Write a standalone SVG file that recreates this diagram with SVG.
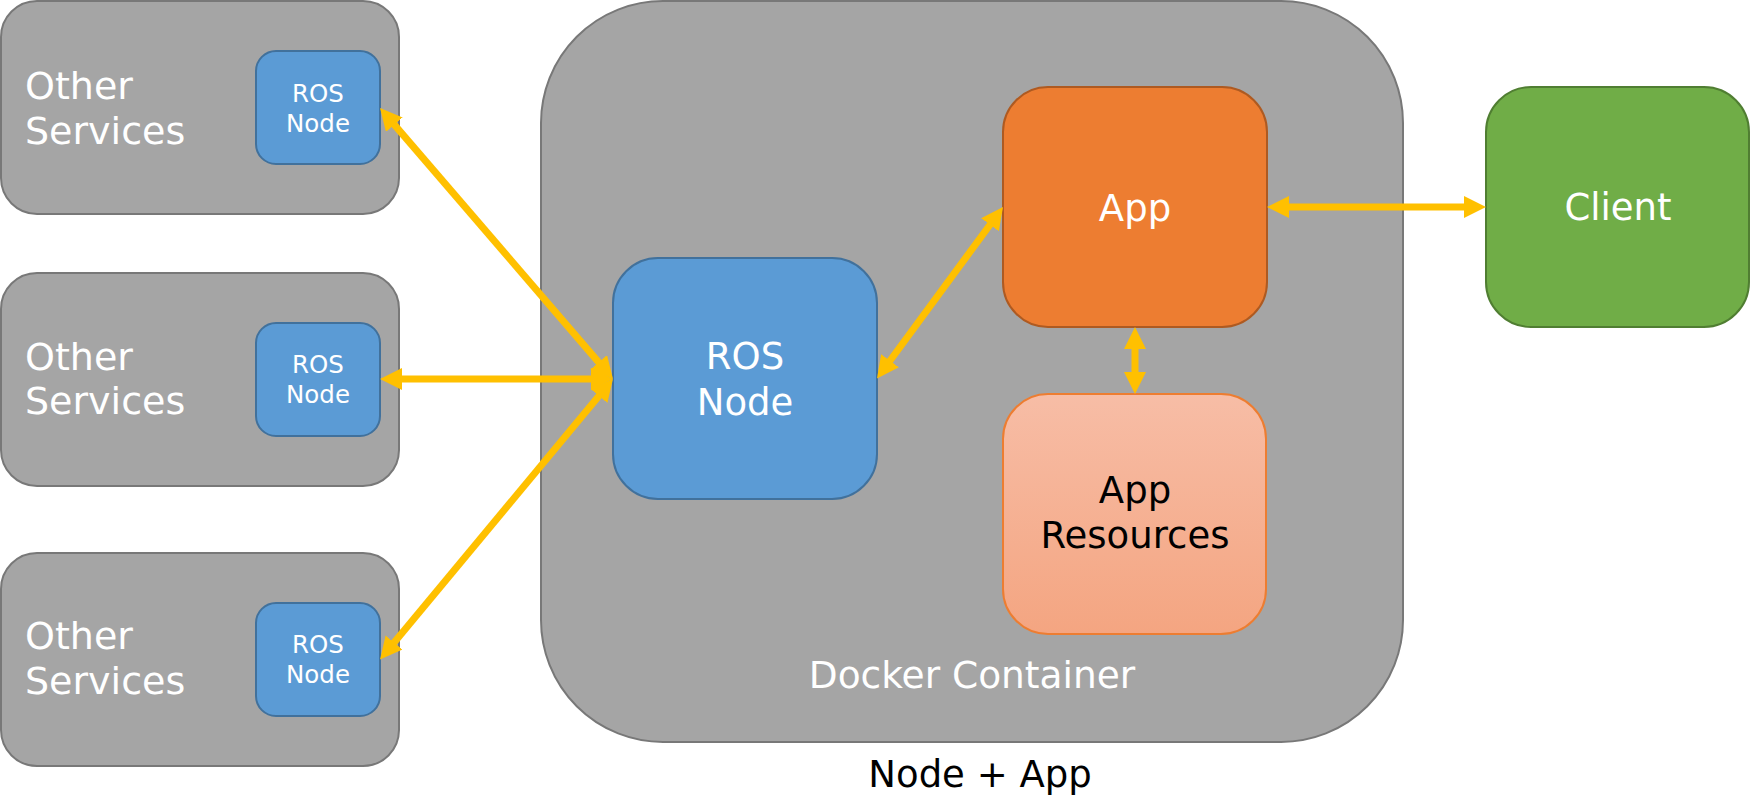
<svg xmlns="http://www.w3.org/2000/svg" width="1750" height="806" viewBox="0 0 1750 806">
<defs>
<linearGradient id="resGrad" x1="0" y1="0" x2="0" y2="1">
<stop offset="0" stop-color="#F7BDA6"/>
<stop offset="1" stop-color="#F4A581"/>
</linearGradient>
<marker id="ah" markerUnits="userSpaceOnUse" markerWidth="24" markerHeight="24" refX="10" refY="11" orient="auto-start-reverse">
<path d="M0,0 L22,11 L0,22 z" fill="#FFC000"/>
</marker>
</defs>
<style>
.gray{fill:#A5A5A5;stroke:#787878;stroke-width:2}
.blue{fill:#5B9BD5;stroke:#41719C;stroke-width:2}
.orange{fill:#ED7D31;stroke:#AE5A21;stroke-width:2}
.green{fill:#70AD47;stroke:#507E32;stroke-width:2}
.res{fill:url(#resGrad);stroke:#ED7D31;stroke-width:2}
text{font-family:"DejaVu Sans","Liberation Sans",sans-serif;fill:#FFFFFF}
.big{font-size:37px}
.svc{font-size:38px}
.small{font-size:24.5px}
.mid{text-anchor:middle}
.dark{fill:#000000}
.conn{stroke:#FFC000;stroke-width:7;fill:none;marker-start:url(#ah);marker-end:url(#ah)}
</style>
<g id="docker-container">
<rect class="gray" x="541" y="1" width="862" height="741" rx="122" ry="122"/>
<text class="mid" x="972" y="688" style="font-size:37.5px">Docker Container</text>
</g>
<g id="other-services-1">
<rect class="gray" x="1" y="1" width="398" height="213" rx="36" ry="36"/>
<text class="svc" x="25" y="99">Other</text>
<text class="svc" x="25" y="144">Services</text>
</g>
<g id="ros-node-1">
<rect class="blue" x="256" y="51" width="124" height="113" rx="20" ry="20"/>
<text class="small mid" x="318" y="102">ROS</text>
<text class="small mid" x="318" y="132">Node</text>
</g>
<g id="other-services-2">
<rect class="gray" x="1" y="273" width="398" height="213" rx="36" ry="36"/>
<text class="svc" x="25" y="370">Other</text>
<text class="svc" x="25" y="414">Services</text>
</g>
<g id="ros-node-2">
<rect class="blue" x="256" y="323" width="124" height="113" rx="20" ry="20"/>
<text class="small mid" x="318" y="373">ROS</text>
<text class="small mid" x="318" y="403">Node</text>
</g>
<g id="other-services-3">
<rect class="gray" x="1" y="553" width="398" height="213" rx="36" ry="36"/>
<text class="svc" x="25" y="649">Other</text>
<text class="svc" x="25" y="694">Services</text>
</g>
<g id="ros-node-3">
<rect class="blue" x="256" y="603" width="124" height="113" rx="20" ry="20"/>
<text class="small mid" x="318" y="653">ROS</text>
<text class="small mid" x="318" y="683">Node</text>
</g>
<g id="ros-node-main">
<rect class="blue" x="613" y="258" width="264" height="241" rx="45" ry="45"/>
<text class="big mid" x="745" y="369">ROS</text>
<text class="big mid" x="745" y="415">Node</text>
</g>
<g id="app">
<rect class="orange" x="1003" y="87" width="264" height="240" rx="45" ry="45"/>
<text class="big mid" x="1135" y="221">App</text>
</g>
<g id="app-resources">
<rect class="res" x="1003" y="394" width="263" height="240" rx="45" ry="45"/>
<text class="big mid dark" x="1135" y="503">App</text>
<text class="big mid dark" x="1135" y="548">Resources</text>
</g>
<g id="client">
<rect class="green" x="1486" y="87" width="263" height="240" rx="45" ry="45"/>
<text class="big mid" x="1618" y="220">Client</text>
</g>
<g id="caption">
<text class="big mid dark" x="980" y="787">Node + App</text>
</g>
<g id="connectors">
<line class="conn" x1="387.8" y1="117.1" x2="605.2" y2="369.9"/>
<line class="conn" x1="392" y1="379" x2="601" y2="379"/>
<line class="conn" x1="387.7" y1="650.3" x2="605.3" y2="388.2"/>
<line class="conn" x1="884.1" y1="368.8" x2="995.9" y2="216.7"/>
<line class="conn" x1="1279" y1="207" x2="1474" y2="207"/>
<line class="conn" x1="1135" y1="339" x2="1135" y2="382"/>
</g>
</svg>
